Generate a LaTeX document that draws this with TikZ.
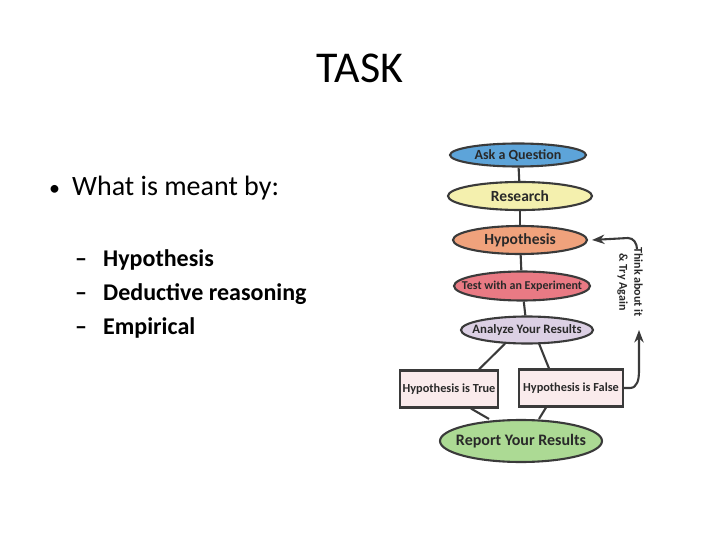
\documentclass[tikz,border=0pt]{standalone}
\usepackage{fontspec}
\setmainfont{Carlito}
\usetikzlibrary{shapes.geometric,arrows.meta}
\definecolor{askblue}{HTML}{5DA4D9}
\definecolor{resyellow}{HTML}{F4F0AE}
\definecolor{hyporange}{HTML}{F0A27C}
\definecolor{testred}{HTML}{E97A84}
\definecolor{anlilac}{HTML}{DCD0E4}
\definecolor{boxpink}{HTML}{FAEBEC}
\definecolor{repgreen}{HTML}{ACDA94}
\definecolor{inkgray}{HTML}{3A3A3A}
\begin{document}
\begin{tikzpicture}[x=1pt, y=-1pt, >=Stealth,
  stage/.style={draw=inkgray, line width=2.1pt, ellipse, inner xsep=-12pt, inner ysep=0pt,
    font=\bfseries, text=inkgray!70!black},
  outcome/.style={draw=inkgray, line width=2.1pt, rectangle, fill=boxpink,
    minimum height=37pt, inner sep=1pt, font=\bfseries\fontsize{12.3}{12}\selectfont, text=inkgray!70!black},
  link/.style={draw=inkgray, line width=2.1pt},
  item/.style={anchor=base west, inner sep=0pt}]
\useasboundingbox (0,0) rectangle (720,540);

% slide text
\node[inner sep=0pt] (title) at (360,68) {\fontsize{44}{44}\selectfont TASK};
\node[item] (bullet) at (49,196) {\fontsize{22}{22}\selectfont \textbullet};
\node[item] (q) at (72,196) {\fontsize{28}{28}\selectfont What is meant by:};
\node[item] (d1) at (75,266) {\fontsize{24}{24}\selectfont\bfseries --};
\node[item] (hyp) at (103,266) {\fontsize{24}{24}\selectfont\bfseries Hypothesis};
\node[item] (d2) at (75,300) {\fontsize{24}{24}\selectfont\bfseries --};
\node[item] (ded) at (103,300) {\fontsize{24}{24}\selectfont\bfseries Deductive reasoning};
\node[item] (d3) at (75,334) {\fontsize{24}{24}\selectfont\bfseries --};
\node[item] (emp) at (103,334) {\fontsize{24}{24}\selectfont\bfseries Empirical};

% method chart
\node[stage, fill=askblue, minimum width=136pt, minimum height=23pt] (ask) at (518,155) {\fontsize{14}{14}\selectfont Ask a Question};
\node[stage, fill=resyellow, minimum width=144pt, minimum height=28pt] (research) at (520,196) {\fontsize{15.5}{15}\selectfont Research};
\node[stage, fill=hyporange, minimum width=134pt, minimum height=28pt] (hypo) at (520,240) {\fontsize{15.5}{15}\selectfont Hypothesis};
\node[stage, fill=testred, minimum width=136pt, minimum height=29pt] (test) at (522,286) {\fontsize{12}{12}\selectfont Test with an Experiment};
\node[stage, fill=anlilac, minimum width=132pt, minimum height=27pt] (analyze) at (527,330) {\fontsize{12.8}{12}\selectfont Analyze Your Results};
\node[outcome, minimum width=98pt] (true) at (449,389) {Hypothesis is True};
\node[outcome, minimum width=104pt] (false) at (571,388) {Hypothesis is False};
\node[stage, fill=repgreen, minimum width=162pt, minimum height=42pt] (report) at (521,441) {\fontsize{16}{16}\selectfont Report Your Results};

\draw[link] (ask) -- (research);
\draw[link] (research) -- (hypo);
\draw[link] (hypo) -- (test);
\draw[link] (test) -- (analyze);
\draw[link] (analyze.south) ++(-22pt,1pt) -- ([xshift=30pt]true.north);
\draw[link] (analyze.south) ++(12pt,1pt) -- ([xshift=-22pt]false.north);
\draw[link] ([xshift=22pt]true.south) -- ([xshift=-32pt]report.north);
\draw[link] ([xshift=-25pt]false.south) -- ([xshift=18pt]report.north);

% loop back
\node[rotate=-90, align=center, inner sep=0pt, font=\bfseries\fontsize{12}{15}\selectfont, text=inkgray!70!black] (again) at (630,282) {Think about it\\ \& Try Again};
\coordinate (upper) at (637,249);
\draw[link, ->] (false.east) -- (630,388) to[out=0, in=-90] (639,372) -- (639,330);
\draw[link, ->] (upper) to[out=90, in=0] (628,238) -- ([xshift=4pt]hypo.east);
\end{tikzpicture}
\end{document}
